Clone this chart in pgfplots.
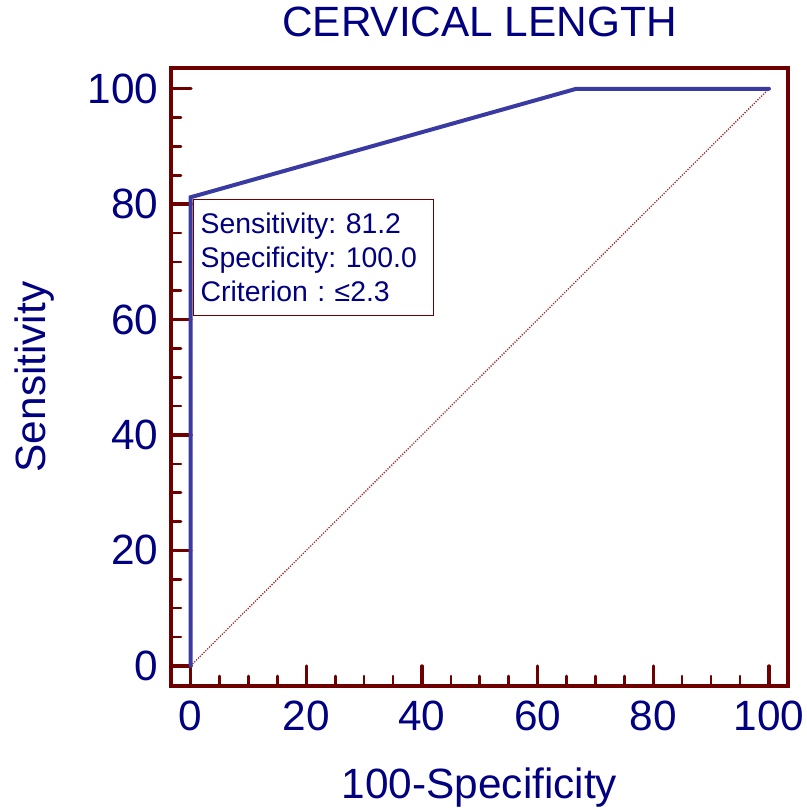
\documentclass[border=0pt]{standalone}
\usepackage{fontspec}
\setmainfont{Liberation Sans}
\usepackage{pgfplots}
\usepackage{pgfplotstable}
\pgfplotsset{compat=1.18}

\definecolor{axisred}{RGB}{110,0,0}
\definecolor{textnavy}{RGB}{0,0,128}
\definecolor{rocblue}{RGB}{58,58,163}
\definecolor{diagred}{RGB}{160,40,40}

% ROC curve: 100-Specificity vs Sensitivity
\pgfplotstableread{
fpr   tpr
0     0
0     81.2
66.7  100
100   100
}\roctable

\begin{document}
\begin{tikzpicture}
\begin{axis}[
  at={(171bp,124bp)}, anchor=south west,
  width=617bp, height=618bp, scale only axis,
  xmin=-3.4, xmax=103.3, ymin=-3.5, ymax=103.6,
  xtick={0,20,...,100}, ytick={0,20,...,100},
  minor tick num=3,
  tick pos=left, tick align=inside,
  major tick length=20bp, minor tick length=10bp,
  every major tick/.append style={axisred, line width=3.4bp, line cap=round},
  every minor tick/.append style={axisred, line width=2.6bp, line cap=round},
  axis line style={axisred, line width=3.6bp},
  /pgf/number format/assume math mode=true,
  ticklabel style={textnavy, font=\fontsize{42.5}{50}\selectfont},
  xticklabel style={yshift=-11bp},
  yticklabel style={xshift=-9bp},
  title={CERVICAL LENGTH},
  title style={textnavy, font=\fontsize{42.5}{50}\selectfont,
    at={(0.5,1.0405)}, anchor=base},
  xlabel={100-Specificity},
  xlabel style={textnavy, font=\fontsize{42.5}{50}\selectfont,
    at={(0.5,-0.1828)}, anchor=base},
  ylabel={Sensitivity},
  ylabel style={textnavy, font=\fontsize{42.5}{50}\selectfont,
    at={(-0.2026,0.5)}, anchor=base, rotate=0},
]
  % reference diagonal
  \addplot[diagred, line width=1.3bp, dash pattern=on 1.2bp off 1.4bp]
    coordinates {(0,0) (100,100)};
  % ROC curve
  \addplot[rocblue, line width=4bp, line cap=round, line join=miter]
    table[x=fpr, y=tpr] {\roctable};
  % criterion box
  \node[draw=axisred, line width=1.3bp, fill=white, text=textnavy,
        anchor=north west, align=left, text width=226bp,
        inner xsep=7bp, inner ysep=13.5bp,
        font=\fontsize{28.5}{34}\selectfont\frenchspacing,
        xshift=2.3bp, yshift=-1.8bp]
    at (axis cs:0,81.2)
    {Sensitivity: 81.2\\Specificity: 100.0\\Criterion : ≤2.3};
\end{axis}
\pgfresetboundingbox
\useasboundingbox (0,0) rectangle (807bp,810bp);
\end{tikzpicture}
\end{document}
